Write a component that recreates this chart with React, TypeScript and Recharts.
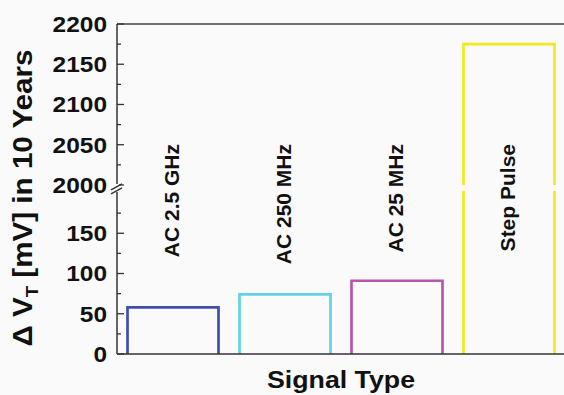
import { Bar, BarChart, Cell, LabelList, XAxis, YAxis } from 'recharts';

const categories = ['AC 2.5 GHz', 'AC 250 MHz', 'AC 25 MHz', 'Step Pulse'];
const deltaVt = [58, 74, 91, 2175];
const lowerTicks = [0, 50, 100, 150];
const lowerMinorTicks = [25, 75, 125, 175];
const upperTicks = [2000, 2050, 2100, 2150, 2200];
const upperMinorTicks = [2025, 2075, 2125, 2175];

const barColors = ['#3f4fae', '#62d2e4', '#b855b0', '#f2ea1c'];

// broken axis: 0..BREAK_LOW below the break, BREAK_HIGH..max above it
const BREAK_LOW = 210;
const BREAK_HIGH = 2000;
const toAxis = (v: number) => (v <= BREAK_LOW ? v : v - BREAK_HIGH + BREAK_LOW);
const fromAxis = (t: number) => (t < BREAK_LOW ? t : t - BREAK_LOW + BREAK_HIGH);

const FONT = '"Liberation Sans", Arial, Helvetica, sans-serif';
const BG = '#fafafa';
const AXIS = '#333';

const chartData = categories.map((name, i) => ({ name, t: toAxis(deltaVt[i]) }));
const majorTicks = [...lowerTicks, ...upperTicks].map(toAxis);
const allTicks = [...majorTicks, ...lowerMinorTicks, ...upperMinorTicks.map(toAxis)].sort((a, b) => a - b);
const yMax = toAxis(upperTicks[upperTicks.length - 1]);

const BreakMark = ({ x, y }: { x: number; y: number }) => (
  <g>
    <rect x={x - 2} y={y - 1} width={4} height={8} fill={BG} />
    <line x1={x - 6} y1={y + 5} x2={x + 5} y2={y - 1} stroke={AXIS} strokeWidth={1.4} />
    <line x1={x - 6} y1={y + 9} x2={x + 5} y2={y + 3} stroke={AXIS} strokeWidth={1.4} />
  </g>
);

const LeftTick = (props: any) => {
  const { x, y, payload } = props;
  const t = payload.value;
  const major = majorTicks.includes(t);
  const label = String(fromAxis(t));
  return (
    <g>
      <line x1={x} x2={x + (major ? 7 : 4)} y1={y} y2={y} stroke={AXIS} strokeWidth={1.3} />
      {major && (
        <text
          x={x - 10}
          y={y + 7.8}
          textAnchor="end"
          fontFamily={FONT}
          fontSize={22}
          fontWeight={700}
          fill="#111"
          textLength={label.length * 13.6}
          lengthAdjust="spacingAndGlyphs"
        >
          {label}
        </text>
      )}
      {t === BREAK_LOW && <BreakMark x={x} y={y} />}
    </g>
  );
};

const RightTick = (props: any) => {
  const { x, y, payload } = props;
  const t = payload.value;
  const major = majorTicks.includes(t);
  return (
    <g>
      <line x1={x} x2={x - (major ? 7 : 4)} y1={y} y2={y} stroke={AXIS} strokeWidth={1.3} />
      {t === BREAK_LOW && <BreakMark x={x - 2} y={y} />}
    </g>
  );
};

const OutlineBar = (props: any) => {
  const { x, y, width, height, payload, index } = props;
  const stroke = props.stroke && props.stroke !== 'none' ? props.stroke : barColors[index];
  const bottom = y + height;
  const right = x + width;
  if (payload.t <= BREAK_LOW) {
    return (
      <path
        d={`M${x},${bottom} L${x},${y} L${right},${y} L${right},${bottom}`}
        fill="none"
        stroke={stroke}
        strokeWidth={2.7}
      />
    );
  }
  const breakY = bottom - (BREAK_LOW * height) / payload.t;
  return (
    <g fill="none" stroke={stroke} strokeWidth={2.7}>
      <path d={`M${x},${breakY} L${x},${y} L${right},${y} L${right},${breakY}`} />
      <path d={`M${x},${bottom} L${x},${breakY + 6}`} />
      <path d={`M${right},${bottom} L${right},${breakY + 6}`} />
    </g>
  );
};

const InBarLabel = (props: any) => {
  const cx = Number(props.x) + Number(props.width) / 2;
  const top = 144;
  return (
    <text
      x={cx + 6}
      y={top}
      transform={`rotate(-90, ${cx + 6}, ${top})`}
      textAnchor="end"
      fontFamily={FONT}
      fontSize={21}
      fontWeight={700}
      fill="#111"
    >
      {props.value}
    </text>
  );
};

const YTitle = () => (
  <text
    x={-198}
    y={32}
    transform="rotate(-90)"
    textAnchor="middle"
    fontFamily={FONT}
    fontSize={27}
    fontWeight={700}
    fill="#111"
    textLength={297}
    lengthAdjust="spacingAndGlyphs"
  >
    Δ V
    <tspan fontSize={17} dy={6}>
      T
    </tspan>
    <tspan dy={-6}> [mV] in 10 Years</tspan>
  </text>
);

const XTitle = () => (
  <text
    x={341}
    y={388}
    textAnchor="middle"
    fontFamily={FONT}
    fontSize={24}
    fontWeight={700}
    fill="#111"
    textLength={148}
    lengthAdjust="spacingAndGlyphs"
  >
    Signal Type
  </text>
);

export default function App() {
  return (
    <div
      style={{
        position: 'fixed',
        left: 0,
        top: 0,
        width: 564,
        height: 395,
        overflow: 'hidden',
        background: BG,
      }}
    >
      <BarChart
        width={580}
        height={395}
        data={chartData}
        margin={{ top: 23, right: 14, bottom: 40, left: 0 }}
        barCategoryGap={10.5}
      >
        <XAxis
          dataKey="name"
          tick={false}
          tickLine={false}
          height={1}
          axisLine={{ stroke: AXIS, strokeWidth: 1.6 }}
          label={<XTitle />}
        />
        <XAxis
          xAxisId="top"
          orientation="top"
          dataKey="name"
          tick={false}
          tickLine={false}
          height={1}
          axisLine={{ stroke: '#444', strokeWidth: 1.6 }}
        />
        <YAxis
          type="number"
          domain={[0, yMax]}
          ticks={allTicks}
          interval={0}
          width={117}
          tickSize={0}
          tickMargin={0}
          tickLine={false}
          tick={<LeftTick />}
          axisLine={{ stroke: AXIS, strokeWidth: 1.5 }}
          label={<YTitle />}
        />
        <YAxis
          yAxisId="right"
          orientation="right"
          type="number"
          domain={[0, yMax]}
          ticks={allTicks}
          interval={0}
          width={1}
          tickSize={0}
          tickMargin={0}
          tickLine={false}
          tick={<RightTick />}
          axisLine={{ stroke: AXIS, strokeWidth: 1.5 }}
        />
        <Bar dataKey="t" fill="none" shape={<OutlineBar />} isAnimationActive={false}>
          {chartData.map((d, i) => (
            <Cell key={d.name} stroke={barColors[i]} />
          ))}
          <LabelList dataKey="name" content={<InBarLabel />} />
        </Bar>
      </BarChart>
    </div>
  );
}
